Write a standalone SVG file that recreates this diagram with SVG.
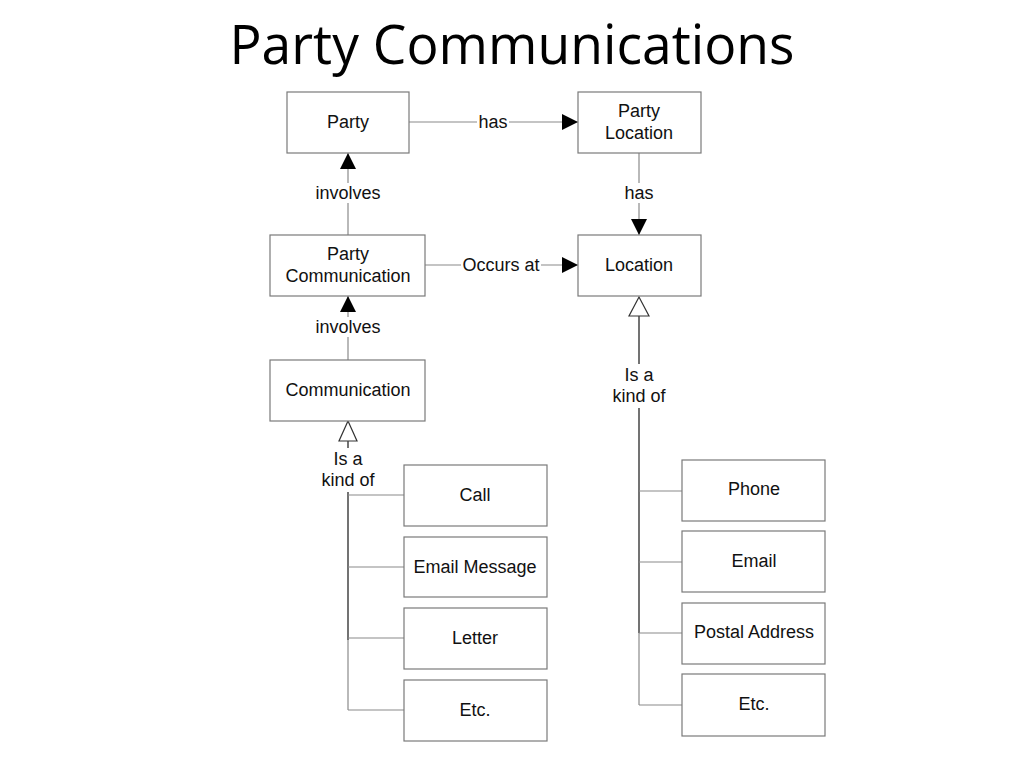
<svg xmlns="http://www.w3.org/2000/svg" width="1024" height="768" viewBox="0 0 1024 768">
<style>
.box{fill:#fff;stroke:#7a7a7a;stroke-width:1.2}
.t{font-family:"Liberation Sans",Arial,sans-serif;font-size:18px;fill:#111;text-anchor:middle}
.ln{fill:none;stroke:#8a8a8a;stroke-width:1.2}
.tr{fill:none;stroke:#444;stroke-width:1.5}
.lbg{fill:#fff}
.title{font-family:"Open Sans","Liberation Sans",sans-serif;font-size:55px;fill:#000;text-anchor:middle}
</style>
<defs>
<marker id="fill" viewBox="0 0 16 16" refX="16" refY="8" markerWidth="16" markerHeight="16" markerUnits="userSpaceOnUse" orient="auto">
<path d="M0,0 L16,8 L0,16 Z" fill="#000"/>
</marker>
</defs>
<rect width="1024" height="768" fill="#fff"/>
<text class="title" x="512" y="64" textLength="565" lengthAdjust="spacingAndGlyphs">Party Communications</text>

<g id="connectors">
<line class="ln" x1="409" y1="122" x2="578" y2="122" marker-end="url(#fill)"/>
<rect class="lbg" x="477" y="112" width="32" height="20"/>
<text class="t" x="493" y="128">has</text>
<line class="ln" x1="639" y1="153" x2="639" y2="235" marker-end="url(#fill)"/>
<rect class="lbg" x="622" y="183" width="34" height="20"/>
<text class="t" x="639" y="199">has</text>
<line class="ln" x1="348" y1="235" x2="348" y2="153" marker-end="url(#fill)"/>
<rect class="lbg" x="312" y="183" width="72" height="20"/>
<text class="t" x="348" y="199">involves</text>
<line class="ln" x1="425" y1="265" x2="578" y2="265" marker-end="url(#fill)"/>
<rect class="lbg" x="461" y="255" width="80" height="20"/>
<text class="t" x="501" y="271">Occurs at</text>
<line class="ln" x1="348" y1="360" x2="348" y2="296" marker-end="url(#fill)"/>
<rect class="lbg" x="312" y="317" width="72" height="20"/>
<text class="t" x="348" y="333">involves</text>

<path d="M348,421 L357,441 L339,441 Z" fill="#fff" stroke="#333" stroke-width="1.2"/>
<line class="tr" x1="348" y1="441" x2="348" y2="448"/>
<text class="t" x="348" y="465">Is a</text>
<text class="t" x="348" y="486">kind of</text>
<path class="tr" d="M348,492 L348,640"/>
<path class="ln" d="M348,640 L348,710"/>
<path class="ln" d="M348,495 H404 M348,567 H404 M348,638 H404 M348,710 H404"/>

<path d="M639,297 L649,316 L629,316 Z" fill="#fff" stroke="#333" stroke-width="1.2"/>
<line class="tr" x1="639" y1="316" x2="639" y2="364"/>
<text class="t" x="639" y="381">Is a</text>
<text class="t" x="639" y="402">kind of</text>
<path class="tr" d="M639,408 L639,633"/>
<path class="ln" d="M639,633 L639,705"/>
<path class="ln" d="M639,491 H682 M639,562 H682 M639,633 H682 M639,705 H682"/>
</g>

<g id="party"><rect class="box" x="287" y="92" width="122" height="61"/><text class="t" x="348" y="128">Party</text></g>
<g id="party-location"><rect class="box" x="578" y="92" width="123" height="61"/><text class="t" x="639" y="117">Party</text><text class="t" x="639" y="139">Location</text></g>
<g id="party-communication"><rect class="box" x="270" y="235" width="155" height="61"/><text class="t" x="348" y="260">Party</text><text class="t" x="348" y="282">Communication</text></g>
<g id="location"><rect class="box" x="578" y="235" width="123" height="61"/><text class="t" x="639" y="271">Location</text></g>
<g id="communication"><rect class="box" x="270" y="360" width="155" height="61"/><text class="t" x="348" y="396">Communication</text></g>

<g id="call"><rect class="box" x="404" y="465" width="143" height="61"/><text class="t" x="475" y="501">Call</text></g>
<g id="email-message"><rect class="box" x="404" y="537" width="143" height="60"/><text class="t" x="475" y="573">Email Message</text></g>
<g id="letter"><rect class="box" x="404" y="608" width="143" height="61"/><text class="t" x="475" y="644">Letter</text></g>
<g id="etc-comm"><rect class="box" x="404" y="680" width="143" height="61"/><text class="t" x="475" y="716">Etc.</text></g>

<g id="phone"><rect class="box" x="682" y="460" width="143" height="61"/><text class="t" x="754" y="495">Phone</text></g>
<g id="email"><rect class="box" x="682" y="531" width="143" height="61"/><text class="t" x="754" y="567">Email</text></g>
<g id="postal-address"><rect class="box" x="682" y="603" width="143" height="61"/><text class="t" x="754" y="638">Postal Address</text></g>
<g id="etc-loc"><rect class="box" x="682" y="674" width="143" height="62"/><text class="t" x="754" y="710">Etc.</text></g>
</svg>
